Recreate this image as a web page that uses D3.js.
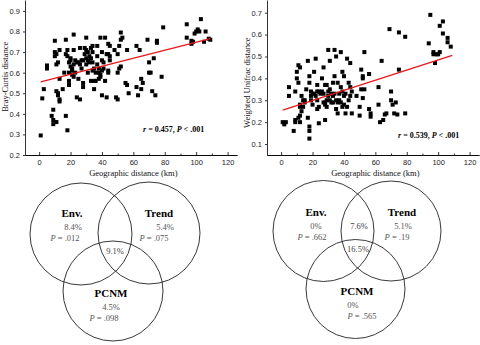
<!DOCTYPE html>
<html lang="en">
<head>
  <meta charset="UTF-8">
  <title>Distance decay and variation partitioning</title>
  <script src="https://d3js.org/d3.v7.min.js"></script>
  <style>
    body { margin: 0; background: #fff; }
    svg { display: block; font-family: "Liberation Serif", "DejaVu Serif", serif; }
    .axis path, .axis line { stroke: #000; stroke-width: 0.8; }
    .axis text { font-size: 7.5px; fill: #222; }
  </style>
</head>
<body>
  <svg id="chart" width="480" height="345"></svg>

  <script>
    // Bray-Curtis vs geographic distance
    const bcDist = [1,2,3,5,5,8,9,9,9,10,10,10,11,11,11,11,12,12,12,13,13,13,13,15,16,17,17,17,18,18,18,19,19,19,19,20,20,20,21,21,21,22,22,22,22,23,23,24,24,25,25,26,26,26,27,27,28,28,28,29,29,30,30,30,30,31,31,31,32,32,33,33,33,34,34,34,34,35,35,35,36,36,37,37,37,38,38,38,39,39,39,40,40,40,40,41,41,42,42,43,43,44,44,44,44,45,45,45,48,49,50,50,50,51,51,52,52,52,53,55,56,56,57,62,62,63,64,65,65,66,69,70,70,71,72,73,74,75,75,78,79,94,94,97,97,98,99,100,101,102,103,105,106,108,109];
    const bcValue = [0.295,0.475,0.52,0.635,0.62,0.39,0.35,0.37,0.42,0.755,0.68,0.70,0.69,0.51,0.64,0.36,0.50,0.49,0.65,0.47,0.46,0.71,0.57,0.52,0.60,0.76,0.39,0.69,0.32,0.71,0.68,0.54,0.56,0.60,0.65,0.63,0.66,0.67,0.62,0.61,0.59,0.785,0.71,0.64,0.58,0.66,0.60,0.48,0.65,0.65,0.57,0.72,0.64,0.47,0.66,0.62,0.53,0.55,0.66,0.72,0.69,0.77,0.67,0.71,0.64,0.66,0.70,0.60,0.68,0.65,0.67,0.56,0.72,0.73,0.70,0.65,0.61,0.52,0.56,0.62,0.56,0.60,0.64,0.68,0.73,0.60,0.62,0.57,0.77,0.58,0.59,0.70,0.66,0.49,0.61,0.65,0.62,0.77,0.56,0.69,0.48,0.74,0.69,0.61,0.60,0.73,0.68,0.66,0.71,0.48,0.47,0.60,0.69,0.73,0.62,0.795,0.76,0.63,0.77,0.55,0.71,0.54,0.50,0.53,0.73,0.49,0.71,0.52,0.57,0.55,0.76,0.65,0.60,0.60,0.51,0.67,0.49,0.755,0.745,0.58,0.82,0.77,0.835,0.74,0.755,0.75,0.79,0.80,0.81,0.80,0.86,0.75,0.80,0.765,0.76];
    const bcFit = [[1, 0.555], [109, 0.765]];

    // Weighted Unifrac vs geographic distance
    const wuDist = [1,2,3,5,5,8,9,9,9,10,10,11,11,11,12,12,12,12,12,13,13,14,14,15,15,16,17,17,18,18,18,18,18,19,19,19,20,20,21,21,22,22,23,23,23,23,24,24,24,25,26,26,27,27,27,28,28,28,28,29,29,29,30,30,30,31,31,31,32,32,33,33,33,34,34,34,35,35,35,36,36,36,37,37,38,38,38,39,39,39,40,40,40,41,41,42,42,43,43,44,44,44,45,45,48,50,50,51,51,52,52,52,53,53,56,56,57,57,62,62,63,64,65,66,67,69,70,70,71,72,73,74,75,75,79,79,94,95,97,97,98,99,100,101,101,103,103,106,106,108];
    const wuValue = [0.20,0.19,0.20,0.36,0.32,0.16,0.34,0.21,0.20,0.43,0.40,0.46,0.38,0.22,0.45,0.28,0.27,0.23,0.20,0.32,0.25,0.30,0.27,0.29,0.30,0.35,0.48,0.22,0.41,0.38,0.18,0.16,0.125,0.34,0.32,0.30,0.33,0.28,0.43,0.33,0.49,0.32,0.37,0.34,0.30,0.26,0.34,0.27,0.195,0.33,0.40,0.34,0.45,0.33,0.29,0.37,0.29,0.28,0.21,0.37,0.30,0.27,0.53,0.34,0.32,0.48,0.35,0.30,0.33,0.29,0.38,0.32,0.29,0.53,0.41,0.33,0.50,0.30,0.26,0.38,0.29,0.24,0.33,0.30,0.52,0.36,0.29,0.43,0.34,0.27,0.41,0.32,0.28,0.33,0.24,0.49,0.27,0.38,0.30,0.47,0.36,0.32,0.24,0.34,0.32,0.27,0.23,0.44,0.35,0.41,0.40,0.31,0.52,0.35,0.26,0.42,0.24,0.225,0.36,0.28,0.20,0.48,0.21,0.235,0.24,0.625,0.30,0.34,0.28,0.24,0.29,0.235,0.44,0.61,0.59,0.24,0.56,0.69,0.51,0.52,0.47,0.51,0.51,0.64,0.52,0.66,0.605,0.585,0.565,0.545];
    const wuFit = [[1, 0.255], [109, 0.505]];

    const xTicks = [0, 20, 40, 60, 80, 100, 120];
    const xMinorTicks = [-10, 10, 30, 50, 70, 90, 110];
    const bcTicks = [0.2, 0.3, 0.4, 0.5, 0.6, 0.7, 0.8, 0.9];
    const wuTicks = [0.1, 0.2, 0.3, 0.4, 0.5, 0.6, 0.7];

    // Venn labels: [set name, percent, p value]
    const vennSetsBC = [["Env.", "8.4%", ".012"], ["Trend", "5.4%", ".075"], ["PCNM", "4.5%", ".098"]];
    const vennSharedBC = ["", "9.1%"];
    const vennSetsWU = [["Env.", "0%", ".662"], ["Trend", "5.1%", ".19"], ["PCNM", "0%", ".565"]];
    const vennSharedWU = ["7.6%", "16.5%"];

    const svg = d3.select("#chart");

    function scatter(opt) {
      const x = d3.scaleLinear().domain([-9, 126]).range([opt.left, opt.left + 212]);
      const y = d3.scaleLinear().domain(opt.yDomain).range([155, 0]);
      const g = svg.append("g");

      // minor ticks first, then major ticks + labels (ticks point up, into the plot)
      g.append("g")
        .attr("class", "axis")
        .attr("transform", "translate(0,155)")
        .call(d3.axisBottom(x).tickValues(xMinorTicks.filter(v => v > -9)).tickFormat("").tickSize(-1.5).tickSizeOuter(0));

      g.append("g")
        .attr("class", "axis")
        .attr("transform", "translate(0,155)")
        .call(d3.axisBottom(x).tickValues(xTicks).tickSize(-3).tickPadding(5).tickSizeOuter(0));

      g.append("g")
        .attr("class", "axis")
        .attr("transform", `translate(${opt.left},0)`)
        .call(d3.axisLeft(y).tickValues(opt.ticks).tickFormat(d3.format(".1f")).tickSize(2).tickSizeOuter(0));

      g.append("text")
        .attr("x", x(60))
        .attr("y", 176)
        .attr("text-anchor", "middle")
        .attr("font-size", 8.5)
        .attr("fill", "#111")
        .text("Geographic distance (km)");

      g.append("text")
        .attr("transform", `translate(${opt.left - 17},${y(opt.titleMid)}) rotate(-90)`)
        .attr("text-anchor", "middle")
        .attr("font-size", 8.5)
        .attr("fill", "#111")
        .text(opt.yTitle);

      g.selectAll(".pt")
        .data(d3.zip(opt.dist, opt.value))
        .enter().append("rect")
        .attr("class", "pt")
        .attr("x", d => x(d[0]) - 2)
        .attr("y", d => y(d[1]) - 2)
        .attr("width", 4)
        .attr("height", 4)
        .attr("fill", "#000");

      g.append("path")
        .datum(opt.fit)
        .attr("fill", "none")
        .attr("stroke", "#e8161b")
        .attr("stroke-width", 1.3)
        .attr("d", d3.line().x(d => x(d[0])).y(d => y(d[1])));

      const t = g.append("text")
        .attr("x", opt.noteX)
        .attr("y", opt.noteY)
        .attr("font-size", 8)
        .attr("font-weight", "bold");
      t.append("tspan").attr("font-style", "italic").text("r");
      t.append("tspan").text(" = " + opt.r + ", ");
      t.append("tspan").attr("font-style", "italic").text("P");
      t.append("tspan").text(" < .001");
    }

    scatter({ left: 25, yDomain: [0.2, 0.953], ticks: bcTicks, dist: bcDist, value: bcValue, fit: bcFit,
      yTitle: "Bray-Curtis distance", titleMid: 0.58, r: "0.457", noteX: 143, noteY: 132 });
    scatter({ left: 267, yDomain: [0.05, 0.758], ticks: wuTicks, dist: wuDist, value: wuValue, fit: wuFit,
      yTitle: "Weighted Unifrac distance", titleMid: 0.38, r: "0.539", noteX: 398, noteY: 138 });

    function venn(opt) {
      const g = svg.append("g");
      g.selectAll("circle")
        .data(opt.circles)
        .enter().append("circle")
        .attr("cx", d => d[0])
        .attr("cy", d => d[1])
        .attr("r", d => d[2])
        .attr("fill", "none")
        .attr("stroke", "#222")
        .attr("stroke-width", 0.9);

      opt.sets.forEach((s, i) => {
        const p = opt.labelPos[i];
        g.append("text").attr("x", p[0]).attr("y", p[1])
          .attr("text-anchor", "middle").attr("font-size", 11).attr("font-weight", "bold")
          .text(s[0]);
        g.append("text").attr("x", p[2]).attr("y", p[1] + 12.5)
          .attr("text-anchor", "middle").attr("font-size", 8.5).attr("fill", "#555")
          .text(s[1]);
        const pt = g.append("text").attr("x", p[3]).attr("y", p[1] + 23.5)
          .attr("text-anchor", "middle").attr("font-size", 8.5).attr("fill", "#555");
        pt.append("tspan").attr("font-style", "italic").text("P");
        pt.append("tspan").text(" = " + s[2]);
      });

      opt.shared.forEach((s, i) => {
        if (!s) return;
        const p = opt.sharedPos[i];
        g.append("text").attr("x", p[0]).attr("y", p[1])
          .attr("text-anchor", "middle").attr("font-size", 8.5).attr("fill", "#444")
          .text(s);
      });
    }

    venn({ circles: [[81, 234, 51], [149, 233, 51], [113, 291, 50]],
      sets: vennSetsBC, labelPos: [[72, 217, 73, 65], [159, 217, 165, 154], [111, 297, 111, 104]],
      shared: vennSharedBC, sharedPos: [[0, 0], [115, 254]] });
    venn({ circles: [[323.5, 231, 50.5], [391, 231, 50], [355.5, 289, 49.5]],
      sets: vennSetsWU, labelPos: [[316, 216, 316, 312], [402, 216, 403, 397], [357, 295, 353, 362]],
      shared: vennSharedWU, sharedPos: [[359, 229], [358, 252]] });
  </script>
</body>
</html>
